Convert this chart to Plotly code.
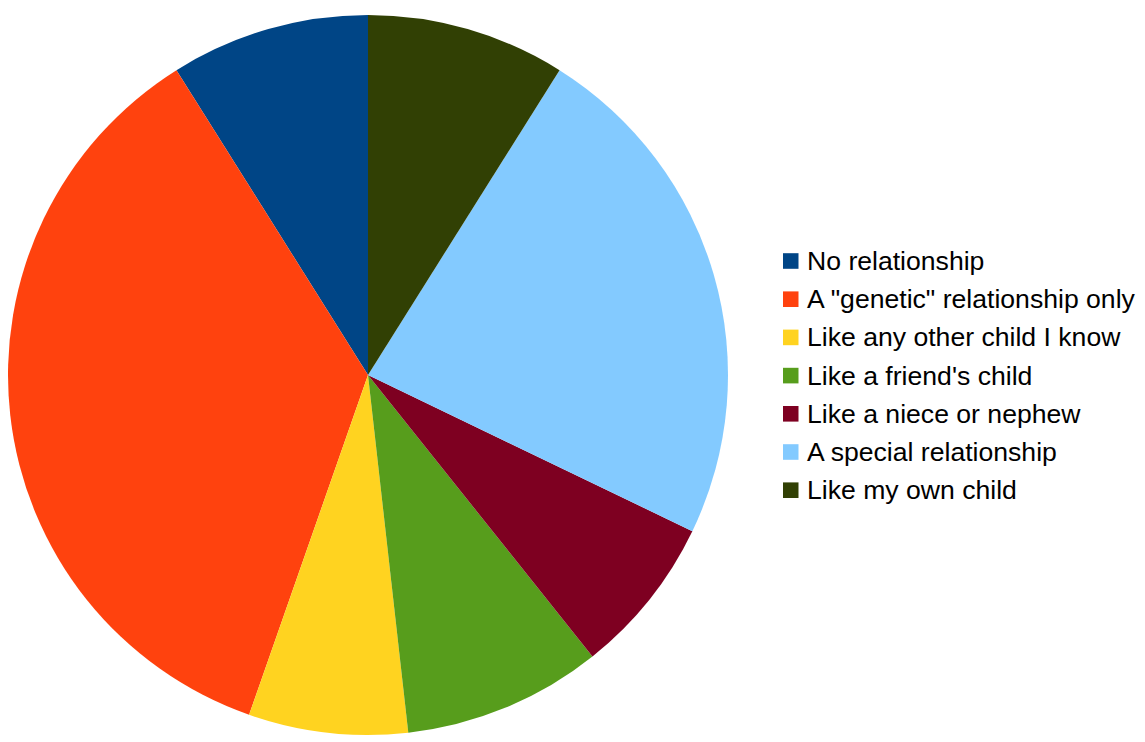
import plotly.graph_objects as go

labels = ["No relationship", "A \"genetic\" relationship only", "Like any other child I know",
          "Like a friend's child", "Like a niece or nephew", "A special relationship",
          "Like my own child"]
values = [5, 20, 4, 5, 4, 13, 5]
colors = ["#004586", "#ff420e", "#ffd320", "#579d1c", "#7e0021", "#83caff", "#314004"]

# page body has an 8px margin, so the figure is sized to the visible area
W, H = 1137, 734
OFF = 8

first_angle = 360.0 * values[0] / sum(values)

fig = go.Figure()
fig.add_trace(go.Pie(
    labels=labels, values=values, sort=False, direction="counterclockwise",
    rotation=-first_angle,
    marker=dict(colors=colors, line=dict(width=0)),
    textinfo="none", hoverinfo="label+value+percent", showlegend=False,
    domain=dict(x=[0, 720 / W], y=[1 - (735 - OFF) / H, 1 - (15 - OFF) / H]),
))

# Manual legend (LibreOffice-style spacing)
row0 = 261 - OFF
gap = 38.2
for i, (lab, col) in enumerate(zip(labels, colors)):
    yc = row0 + i * gap
    fig.add_shape(type="rect", xref="paper", yref="paper",
                  x0=(783 - OFF) / W, x1=(798.5 - OFF) / W,
                  y0=1 - (yc + 7.8) / H, y1=1 - (yc - 7.8) / H,
                  fillcolor=col, line=dict(width=0))
    fig.add_annotation(x=(804.5 - OFF) / W, y=1 - yc / H, xref="paper", yref="paper",
                       xanchor="left", yanchor="middle", text=lab, showarrow=False,
                       font=dict(family="Liberation Sans, Arial", size=26.6, color="#000000"))

fig.update_layout(
    width=W, height=H, margin=dict(l=0, r=0, t=0, b=0),
    paper_bgcolor="white", plot_bgcolor="white", showlegend=False,
)
fig.write_html("out.html")
